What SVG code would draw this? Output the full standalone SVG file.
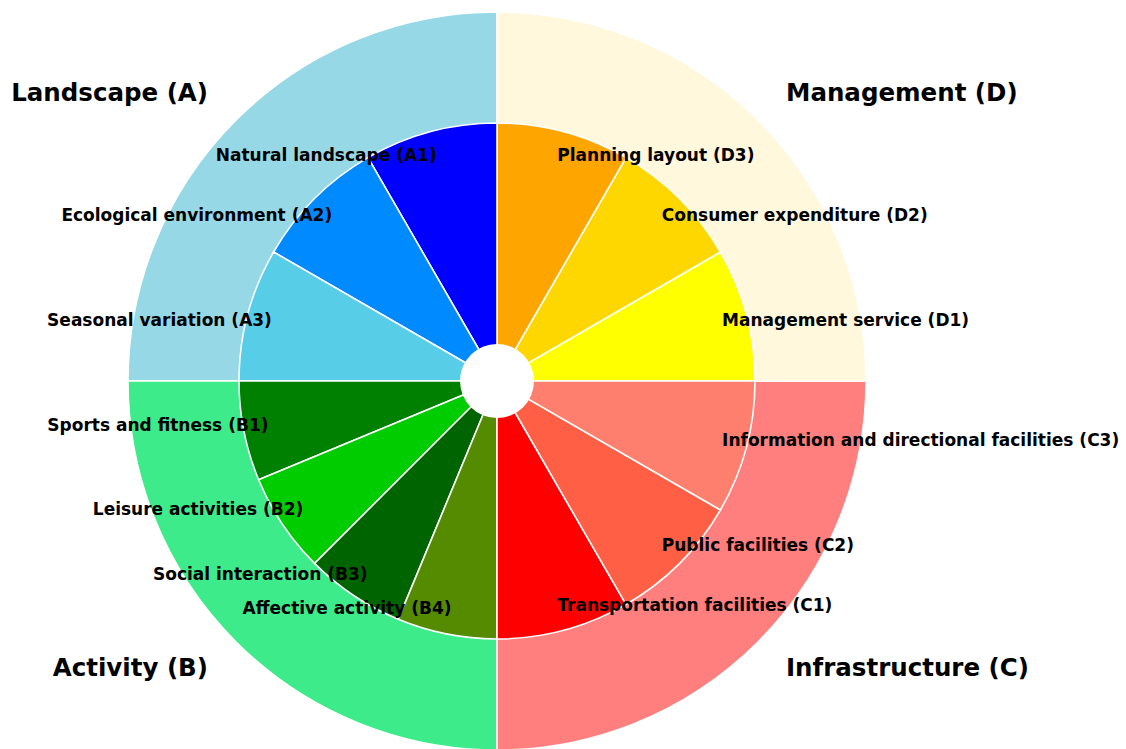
<svg xmlns="http://www.w3.org/2000/svg" width="1126" height="749" viewBox="0 0 1126 749">
  <style>
    .ring { stroke: #ffffff; stroke-width: 1.5; stroke-linejoin: round; }
    .wedge { stroke: #ffffff; stroke-width: 1.6; stroke-linejoin: round; }
    .lbl { font-family: "DejaVu Sans", "Liberation Sans", sans-serif; font-weight: bold; font-size: 17px; fill: #000000; }
    .cat { font-family: "DejaVu Sans", "Liberation Sans", sans-serif; font-weight: bold; font-size: 24.5px; fill: #000000; }
    .l { text-anchor: end; }
    .r { text-anchor: start; }
  </style>
  <rect width="1126" height="749" fill="#ffffff"/>

  <!-- outer ring: one quadrant per category, centre (497,381), r=369 -->
  <g id="outer-ring">
    <path id="ring-A" class="ring" fill="#97D8E6" d="M497,381 L497,12 A369,369 0 0 0 128,381 Z"/>
    <path id="ring-B" class="ring" fill="#3EEB8A" d="M497,381 L128,381 A369,369 0 0 0 497,750 Z"/>
    <path id="ring-C" class="ring" fill="#FF7F7F" d="M497,381 L497,750 A369,369 0 0 0 866,381 Z"/>
    <path id="ring-D" class="ring" fill="#FFF8DC" d="M497,381 L866,381 A369,369 0 0 0 497,12 Z"/>
  </g>

  <!-- inner ring: sub-factors, r=258 -->
  <g id="inner-ring">
    <path id="D1" class="wedge" fill="#FFFF00" d="M497,381 L755,381 A258,258 0 0 0 720.43,252 Z"/>
    <path id="D2" class="wedge" fill="#FFD700" d="M497,381 L720.43,252 A258,258 0 0 0 626,157.57 Z"/>
    <path id="D3" class="wedge" fill="#FFA500" d="M497,381 L626,157.57 A258,258 0 0 0 497,123 Z"/>
    <path id="A1" class="wedge" fill="#0000FF" d="M497,381 L497,123 A258,258 0 0 0 368,157.57 Z"/>
    <path id="A2" class="wedge" fill="#008AFF" d="M497,381 L368,157.57 A258,258 0 0 0 273.57,252 Z"/>
    <path id="A3" class="wedge" fill="#57CDE8" d="M497,381 L273.57,252 A258,258 0 0 0 239,381 Z"/>
    <path id="B1" class="wedge" fill="#008000" d="M497,381 L239,381 A258,258 0 0 0 258.64,479.73 Z"/>
    <path id="B2" class="wedge" fill="#00CC00" d="M497,381 L258.64,479.73 A258,258 0 0 0 314.57,563.43 Z"/>
    <path id="B3" class="wedge" fill="#006400" d="M497,381 L314.57,563.43 A258,258 0 0 0 398.27,619.36 Z"/>
    <path id="B4" class="wedge" fill="#558B00" d="M497,381 L398.27,619.36 A258,258 0 0 0 497,639 Z"/>
    <path id="C1" class="wedge" fill="#FF0000" d="M497,381 L497,639 A258,258 0 0 0 626,604.43 Z"/>
    <path id="C2" class="wedge" fill="#FF6045" d="M497,381 L626,604.43 A258,258 0 0 0 720.43,510 Z"/>
    <path id="C3" class="wedge" fill="#FF7F6E" d="M497,381 L720.43,510 A258,258 0 0 0 755,381 Z"/>
  </g>

  <!-- centre hole -->
  <circle id="hole" cx="497" cy="381" r="37" fill="#ffffff"/>

  <!-- sub-factor labels -->
  <g id="labels">
    <text class="lbl l" x="436.7" y="160.7">Natural landscape (A1)</text>
    <text class="lbl l" x="332.2" y="221.0">Ecological environment (A2)</text>
    <text class="lbl l" x="271.9" y="325.5">Seasonal variation (A3)</text>
    <text class="lbl l" x="268.5" y="431.3">Sports and fitness (B1)</text>
    <text class="lbl l" x="303.3" y="515.2">Leisure activities (B2)</text>
    <text class="lbl l" x="367.5" y="579.5">Social interaction (B3)</text>
    <text class="lbl l" x="451.5" y="614.3">Affective activity (B4)</text>
    <text class="lbl r" x="557.3" y="160.7">Planning layout (D3)</text>
    <text class="lbl r" x="661.8" y="221.0">Consumer expenditure (D2)</text>
    <text class="lbl r" x="722.1" y="325.5">Management service (D1)</text>
    <text class="lbl r" x="722.1" y="446.1">Information and directional facilities (C3)</text>
    <text class="lbl r" x="661.8" y="550.6">Public facilities (C2)</text>
    <text class="lbl r" x="557.3" y="610.9">Transportation facilities (C1)</text>
  </g>

  <!-- category labels -->
  <g id="categories">
    <text class="cat l" x="208" y="100.5">Landscape (A)</text>
    <text class="cat l" x="208" y="675.8">Activity (B)</text>
    <text class="cat r" x="786" y="675.8">Infrastructure (C)</text>
    <text class="cat r" x="786" y="100.5">Management (D)</text>
  </g>
</svg>
